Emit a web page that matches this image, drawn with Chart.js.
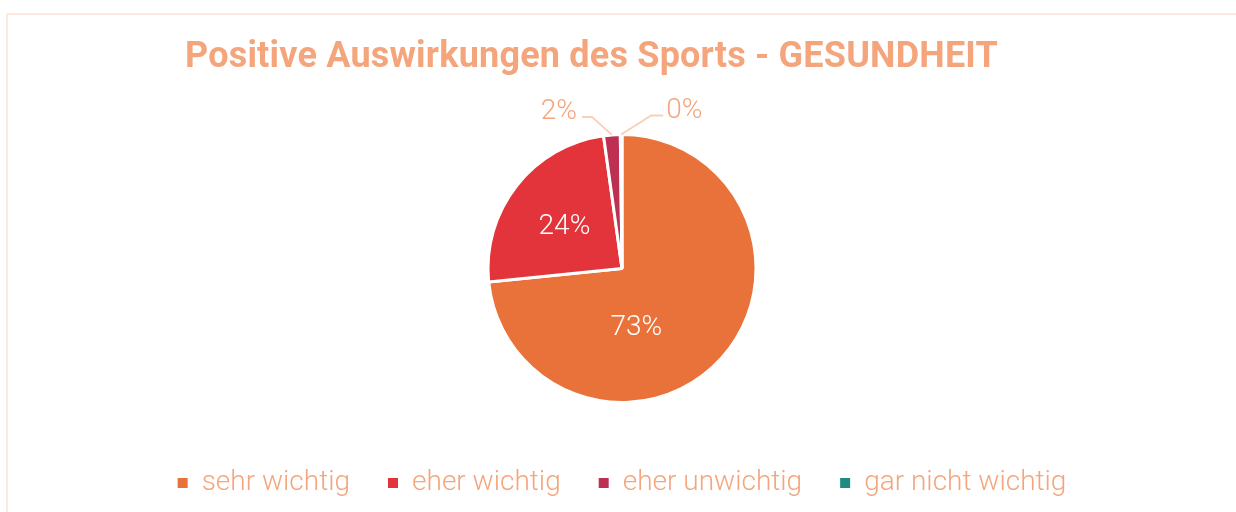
<!DOCTYPE html>
<html>
<head>
<meta charset="utf-8">
<script src="https://cdn.jsdelivr.net/npm/chart.js@4.4.1/dist/chart.umd.min.js"></script>
<style>
  body { margin: 0; background: #fff; overflow: hidden; }
  #frame {
    position: absolute; left: 6px; top: 13px; width: 1240px; height: 520px;
    border: 2px solid #FDE9DD; box-sizing: border-box;
  }
  #wrap { position: absolute; left: 0; top: 0; width: 1236px; height: 512px; }
  #title {
    position: absolute; left: 185px; top: 34px; margin: 0;
    font: bold 36px/43px Roboto, sans-serif; letter-spacing: 0.2px;
    color: #F4A57C; white-space: nowrap;
  }
</style>
</head>
<body>
<div id="frame"></div>
<div id="wrap"><canvas id="pie"></canvas></div>
<h1 id="title"></h1>
<script>
// data
const categories = ["sehr wichtig", "eher wichtig", "eher unwichtig", "gar nicht wichtig"];
const shares = [73.4, 24.4, 2.0, 0.2];
const sliceColors = ["#E9723A", "#E2343A", "#BE3052", "#1E8C82"];
const chartTitle = "Positive Auswirkungen des Sports - GESUNDHEIT";

const peach = "#F4A57C";
const leaderColor = "#F9CFB8";

document.getElementById("title").textContent = chartTitle;

// percent labels: big slices inside, tiny ones outside with a leader line
const sliceLabels = {
  id: "sliceLabels",
  afterDatasetsDraw(chart, args, opts) {
    const ctx = chart.ctx;
    const meta = chart.getDatasetMeta(0);
    const total = shares.reduce((s, v) => s + v, 0);
    ctx.save();
    ctx.textBaseline = "middle";
    ctx.font = "300 28px Roboto";
    meta.data.forEach((arc, i) => {
      const p = arc.getProps(["x", "y", "startAngle", "endAngle", "outerRadius"], true);
      const pct = Math.round(shares[i] / total * 100) + "%";
      const mid = (p.startAngle + p.endAngle) / 2;
      if (shares[i] >= 5) {
        const shift = opts.inside[i] || { r: 0.55, a: 0 };
        const ang = mid + shift.a;
        const rr = p.outerRadius * shift.r;
        ctx.textAlign = "center";
        ctx.fillStyle = "#fff";
        ctx.fillText(pct, p.x + Math.cos(ang) * rr, p.y + Math.sin(ang) * rr);
      } else {
        const off = opts.outside[i];
        const ex = p.x + Math.cos(mid) * p.outerRadius;
        const ey = p.y + Math.sin(mid) * p.outerRadius;
        const kx = ex + off.kx, ky = ey + off.ky;
        const hx = kx + off.hx;
        ctx.strokeStyle = leaderColor;
        ctx.lineWidth = 2;
        ctx.beginPath();
        ctx.moveTo(ex, ey);
        ctx.lineTo(kx, ky);
        ctx.lineTo(hx, ky);
        ctx.stroke();
        ctx.fillStyle = peach;
        ctx.textAlign = off.hx < 0 ? "right" : "left";
        ctx.fillText(pct, hx + (off.hx < 0 ? -5 : 3), ky - 5);
      }
    });
    ctx.restore();
  }
};

new Chart(document.getElementById("pie"), {
  type: "pie",
  data: {
    labels: categories,
    datasets: [{
      data: shares,
      backgroundColor: sliceColors,
      borderColor: "#fff",
      borderWidth: 3
    }]
  },
  plugins: [sliceLabels],
  options: {
    responsive: true,
    maintainAspectRatio: false,
    animation: false,
    layout: { padding: { left: 60, top: 133, bottom: 5, right: 52 } },
    plugins: {
      title: { display: false },
      legend: {
        position: "bottom",
        title: { display: true, text: " ", font: { size: 10 }, padding: { top: 15, bottom: 0 } },
        labels: {
          color: peach,
          font: { family: "Roboto", size: 28, weight: "300" },
          boxWidth: 10,
          boxHeight: 10,
          padding: 38,
          generateLabels(chart) {
            const base = Chart.overrides.pie.plugins.legend.labels.generateLabels(chart);
            return base.map(l => Object.assign(l, { lineWidth: 0 }));
          }
        }
      },
      tooltip: { enabled: false },
      sliceLabels: {
        inside: { 0: { r: 0.46, a: 0.6 }, 1: { r: 0.53, a: -0.04 } },
        outside: { 2: { kx: -20, ky: -18, hx: -10 }, 3: { kx: 30, ky: -19, hx: 12 } }
      }
    }
  }
});
</script>
</body>
</html>
